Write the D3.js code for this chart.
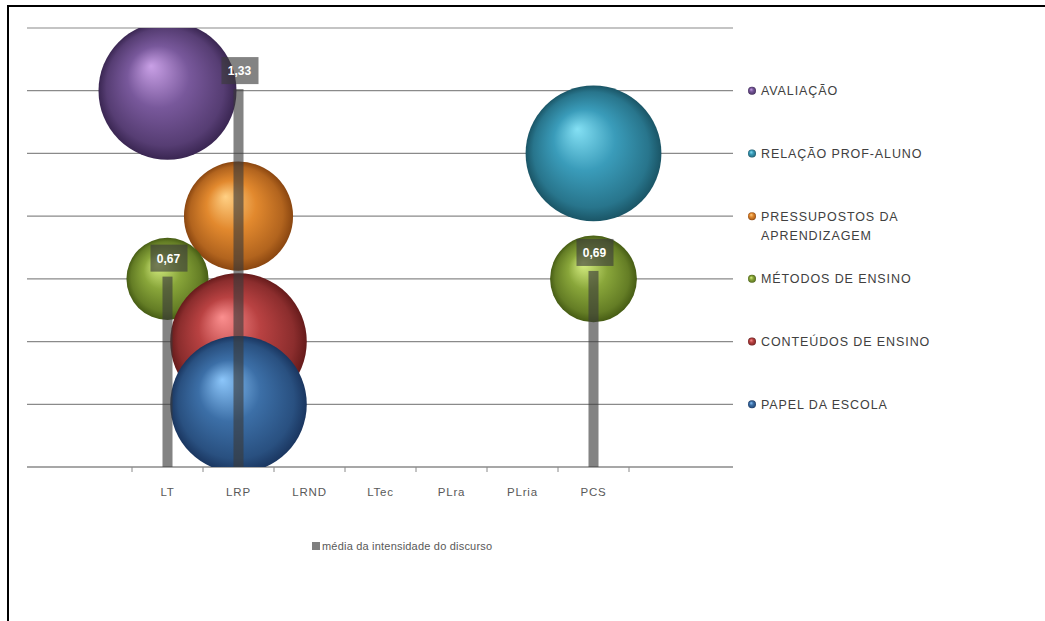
<!DOCTYPE html>
<html>
<head>
<meta charset="utf-8">
<script src="https://cdn.jsdelivr.net/npm/d3@7"></script>
<style>
  html, body { margin: 0; padding: 0; background: #fff; }
  svg { display: block; }
  text { font-family: "Liberation Sans", Arial, sans-serif; }
</style>
</head>
<body>
<svg id="chart" width="1045" height="621"></svg>
<script>
// ---------- DATA ----------
const categories = ["LT", "LRP", "LRND", "LTec", "PLra", "PLria", "PCS"];
const themes = ["PAPEL DA ESCOLA", "CONTEÚDOS DE ENSINO", "MÉTODOS DE ENSINO",
                "PRESSUPOSTOS DA APRENDIZAGEM", "RELAÇÃO PROF-ALUNO", "AVALIAÇÃO"];
const legendOrder = ["AVALIAÇÃO", "RELAÇÃO PROF-ALUNO", "PRESSUPOSTOS DA APRENDIZAGEM",
                     "MÉTODOS DE ENSINO", "CONTEÚDOS DE ENSINO", "PAPEL DA ESCOLA"];
const legendLines = [["AVALIAÇÃO"], ["RELAÇÃO PROF-ALUNO"], ["PRESSUPOSTOS DA", "APRENDIZAGEM"],
                     ["MÉTODOS DE ENSINO"], ["CONTEÚDOS DE ENSINO"], ["PAPEL DA ESCOLA"]];
// bubbles (drawn in legend/series order)
const bubbleTheme    = ["AVALIAÇÃO", "RELAÇÃO PROF-ALUNO", "PRESSUPOSTOS DA APRENDIZAGEM",
                        "MÉTODOS DE ENSINO", "MÉTODOS DE ENSINO", "CONTEÚDOS DE ENSINO", "PAPEL DA ESCOLA"];
const bubbleCategory = ["LT", "PCS", "LRP", "LT", "PCS", "LRP", "LRP"];
const bubbleSize     = [4.8, 4.65, 3.0, 1.7, 1.9, 4.7, 4.7];
// bars
const barValues = [0.67, 1.33, 0, 0, 0, 0, 0.69];
const barLabels = ["0,67", "1,33", "", "", "", "", "0,69"];
const barSeriesName = "média da intensidade do discurso";

const themeColors = {
  "AVALIAÇÃO":                    ["#c9a0e6", "#78589b", "#3a2652"],
  "RELAÇÃO PROF-ALUNO":           ["#84e0f4", "#3a9cba", "#1a5566"],
  "PRESSUPOSTOS DA APRENDIZAGEM": ["#ffd084", "#e2892e", "#8a4610"],
  "MÉTODOS DE ENSINO":            ["#d8f084", "#89a63a", "#465c14"],
  "CONTEÚDOS DE ENSINO":          ["#fb8f8f", "#b94242", "#661b1b"],
  "PAPEL DA ESCOLA":              ["#8cc6fa", "#3c6fa7", "#1a3660"]
};

// ---------- LAYOUT ----------
const svg = d3.select("#chart");
const plot = { left: 27, right: 733, top: 28, bottom: 467 };

const x = d3.scaleBand().domain(categories).range([132, 629]).padding(0);
const y = d3.scaleLinear().domain([0, 7]).range([plot.bottom, plot.top]);
const yBar = d3.scaleLinear().domain([0, 1.545]).range([plot.bottom, plot.top]);
const r = d3.scaleSqrt().domain([0, 4.8]).range([0, 69]);

// border (left + top)
svg.append("path")
  .attr("d", `M8,621 L8,6 L1045,6`)
  .attr("fill", "none").attr("stroke", "#000").attr("stroke-width", 2);

// gradients
const defs = svg.append("defs");
Object.entries(themeColors).forEach(([k, c], i) => {
  const g = defs.append("radialGradient").attr("id", "grad" + i)
    .attr("cx", "50%").attr("cy", "50%").attr("r", "50%")
    .attr("fx", "38%").attr("fy", "32%");
  g.append("stop").attr("offset", "0%").attr("stop-color", c[0]);
  g.append("stop").attr("offset", "45%").attr("stop-color", c[1]);
  g.append("stop").attr("offset", "85%").attr("stop-color", d3.interpolateRgb(c[1], c[2])(0.55));
  g.append("stop").attr("offset", "100%").attr("stop-color", c[2]);
});
const gradId = t => "url(#grad" + Object.keys(themeColors).indexOf(t) + ")";

defs.append("clipPath").attr("id", "plotclip")
  .append("rect").attr("x", plot.left).attr("y", plot.top)
  .attr("width", plot.right - plot.left).attr("height", plot.bottom - plot.top);

// gridlines
svg.append("g").selectAll("line")
  .data(d3.range(1, 8))
  .join("line")
  .attr("x1", plot.left).attr("x2", plot.right)
  .attr("y1", d => y(d)).attr("y2", d => y(d))
  .attr("stroke", "#8a8a8a").attr("stroke-width", 1.2);

// x axis
const xAxisG = svg.append("g").attr("transform", `translate(0,${plot.bottom})`);
xAxisG.append("line").attr("x1", plot.left).attr("x2", plot.right)
  .attr("y1", 0).attr("y2", 0).attr("stroke", "#8a8a8a").attr("stroke-width", 1.5);
const boundaries = categories.map(c => x(c)).concat([x(categories[categories.length - 1]) + x.bandwidth()]);
xAxisG.selectAll("line.tick").data(boundaries).join("line").attr("class", "tick")
  .attr("x1", d => d).attr("x2", d => d).attr("y1", 0).attr("y2", 5)
  .attr("stroke", "#8a8a8a").attr("stroke-width", 1);
xAxisG.selectAll("text").data(categories).join("text")
  .attr("x", d => x(d) + x.bandwidth() / 2).attr("y", 29)
  .attr("text-anchor", "middle").attr("font-size", 11.5).attr("letter-spacing", 0.8)
  .attr("fill", "#595959")
  .text(d => d);

// bubbles
const bubbles = bubbleTheme.map((t, i) => ({ theme: t, cat: bubbleCategory[i], size: bubbleSize[i] }));
svg.append("g").attr("clip-path", "url(#plotclip)")
  .selectAll("circle").data(bubbles).join("circle")
  .attr("cx", d => x(d.cat) + x.bandwidth() / 2)
  .attr("cy", d => y(themes.indexOf(d.theme) + 1))
  .attr("r", d => r(d.size))
  .attr("fill", d => gradId(d.theme));

// bars
const bw = 10;
const barData = categories.map((c, i) => ({ c, v: barValues[i], l: barLabels[i] })).filter(d => d.v > 0);
svg.append("g").selectAll("rect").data(barData)
  .join("rect")
  .attr("x", d => x(d.c) + x.bandwidth() / 2 - bw / 2)
  .attr("y", d => yBar(d.v))
  .attr("width", bw).attr("height", d => yBar(0) - yBar(d.v))
  .attr("fill", "#3a3a3a").attr("fill-opacity", 0.63);

// bar labels
const lab = svg.append("g").selectAll("g").data(barData)
  .join("g")
  .attr("transform", d => `translate(${x(d.c) + x.bandwidth() / 2 + 1},${yBar(d.v) - 5})`);
lab.append("rect").attr("x", -18).attr("y", -27).attr("width", 37).attr("height", 27)
  .attr("fill", "#3a3a3a").attr("fill-opacity", 0.63);
lab.append("text").attr("x", 0).attr("y", -9).attr("text-anchor", "middle")
  .attr("font-size", 12).attr("font-weight", "bold").attr("fill", "#fff")
  .text(d => d.l);

// right legend
const lg = svg.append("g").selectAll("g").data(legendOrder).join("g")
  .attr("transform", d => `translate(752,${y(themes.indexOf(d) + 1)})`);
lg.append("circle").attr("r", 4).attr("cx", 0).attr("cy", 0).attr("fill", d => gradId(d));
lg.append("text").attr("x", 9).attr("y", 4.5).attr("font-size", 12.5).attr("letter-spacing", 0.9)
  .attr("fill", "#404040")
  .each(function (d, i) {
    const t = d3.select(this);
    legendLines[i].forEach((ln, j) => {
      t.append("tspan").attr("x", 9).attr("dy", j === 0 ? 0 : 19).text(ln);
    });
  });

// bottom legend
const bl = svg.append("g").attr("transform", "translate(312,546)");
bl.append("rect").attr("x", 0).attr("y", -4).attr("width", 8).attr("height", 8).attr("fill", "#7f7f7f");
bl.append("text").attr("x", 10).attr("y", 4).attr("font-size", 11).attr("letter-spacing", 0.2)
  .attr("fill", "#595959").text(barSeriesName);
</script>
</body>
</html>
